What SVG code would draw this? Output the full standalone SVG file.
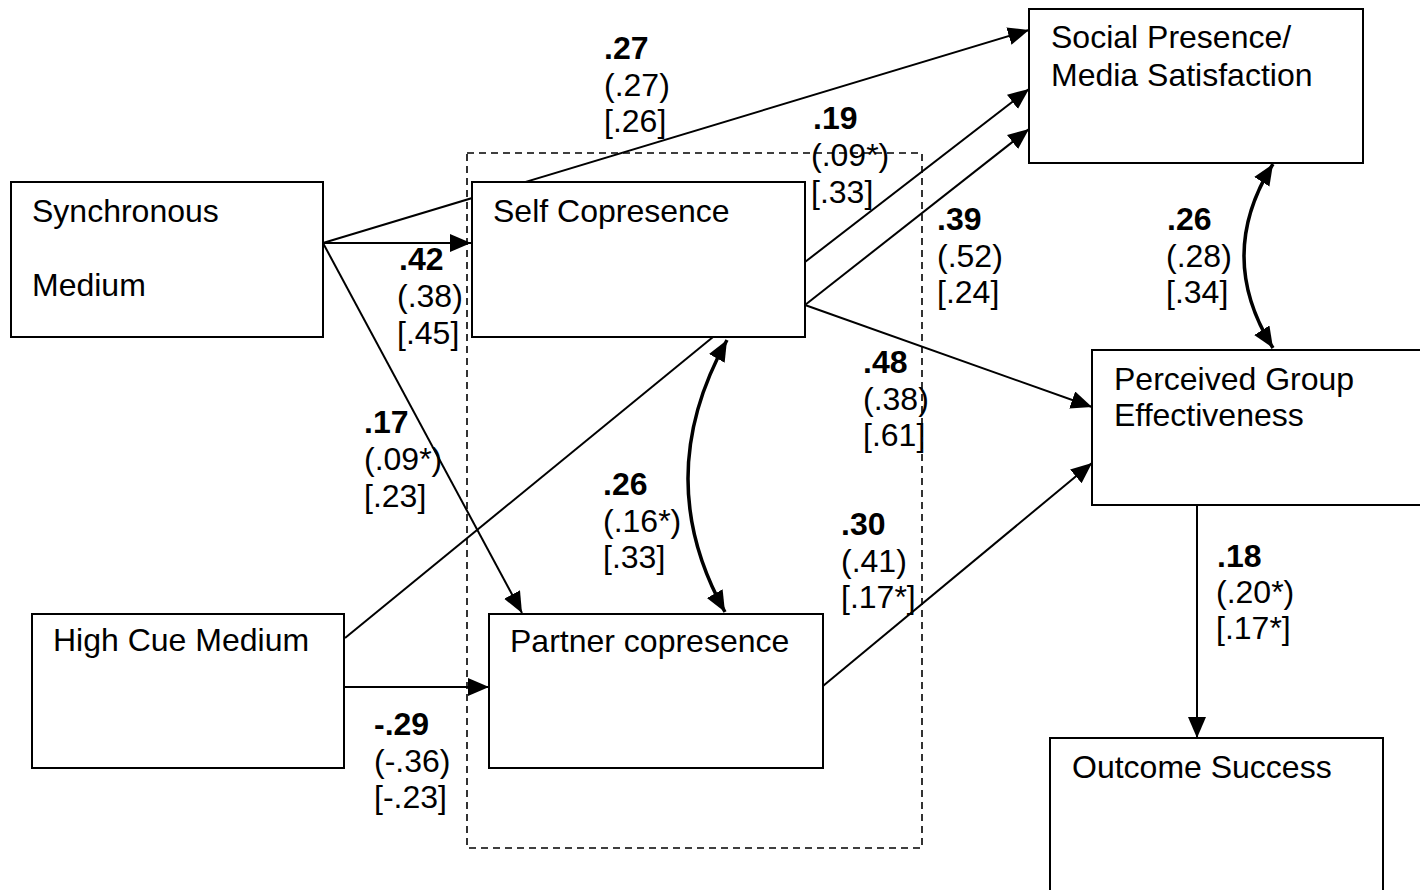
<svg xmlns="http://www.w3.org/2000/svg" width="1420" height="890" viewBox="0 0 1420 890">
<style>
text{font-family:"Liberation Sans",Arial,sans-serif;font-size:32px;fill:#000}
.b{font-weight:bold}
.box{fill:#fff;stroke:#000;stroke-width:2}
.c{fill:none;stroke:#000;stroke-width:2}
.t{fill:none;stroke:#000;stroke-width:3.5}
.dash{fill:none;stroke:#000;stroke-width:1.6;stroke-dasharray:7,5}
</style>
<defs>
<marker id="ah" markerUnits="userSpaceOnUse" markerWidth="24" markerHeight="20" refX="21" refY="9" orient="auto-start-reverse">
<path d="M0,0 L21,9 L0,18 z" fill="#000"/>
</marker>
</defs>
<rect class="dash" x="467" y="153" width="455" height="695"/>
<g id="connectors">
<line class="c" x1="323" y1="243" x2="1029" y2="30" marker-end="url(#ah)"/>
<line class="c" x1="323" y1="243" x2="471" y2="243" marker-end="url(#ah)"/>
<line class="c" x1="323" y1="243" x2="522" y2="613" marker-end="url(#ah)"/>
<line class="c" x1="345" y1="638" x2="713" y2="337"/>
<line class="c" x1="344" y1="687" x2="489" y2="687" marker-end="url(#ah)"/>
<line class="c" x1="805" y1="262" x2="1029" y2="89" marker-end="url(#ah)"/>
<line class="c" x1="805" y1="305" x2="1029" y2="129" marker-end="url(#ah)"/>
<line class="c" x1="805" y1="305" x2="1092" y2="407" marker-end="url(#ah)"/>
<line class="c" x1="823" y1="686" x2="1092" y2="463" marker-end="url(#ah)"/>
<line class="c" x1="1197" y1="505" x2="1197" y2="738" marker-end="url(#ah)"/>
<path class="t" d="M727,340 Q650,478 725,612" marker-start="url(#ah)" marker-end="url(#ah)"/>
<path class="t" d="M1273,164 Q1215,256 1273,348" marker-start="url(#ah)" marker-end="url(#ah)"/>
</g>
<g id="synchronous">
<rect class="box" x="11" y="182" width="312" height="155"/>
<text x="32" y="222">Synchronous</text>
<text x="32" y="296">Medium</text>
</g>
<g id="self">
<rect class="box" x="472" y="182" width="333" height="155"/>
<text x="493" y="222">Self Copresence</text>
</g>
<g id="social">
<rect class="box" x="1029" y="9" width="334" height="154"/>
<text x="1051" y="48">Social Presence/</text>
<text x="1051" y="86">Media Satisfaction</text>
</g>
<g id="perceived">
<rect class="box" x="1092" y="350" width="340" height="155"/>
<text x="1114" y="390">Perceived Group</text>
<text x="1114" y="426">Effectiveness</text>
</g>
<g id="outcome">
<rect class="box" x="1050" y="738" width="333" height="170"/>
<text x="1072" y="778">Outcome Success</text>
</g>
<g id="highcue">
<rect class="box" x="32" y="614" width="312" height="154"/>
<text x="53" y="651">High Cue Medium</text>
</g>
<g id="partner">
<rect class="box" x="489" y="614" width="334" height="154"/>
<text x="510" y="652">Partner copresence</text>
</g>
<g id="labels">
<text class="b" x="604" y="59">.27</text><text x="604" y="96">(.27)</text><text x="604" y="132">[.26]</text>
<text class="b" x="399" y="270">.42</text><text x="397" y="307">(.38)</text><text x="397" y="344">[.45]</text>
<text class="b" x="813" y="129">.19</text><text x="811" y="166">(.09*)</text><text x="811" y="203">[.33]</text>
<text class="b" x="937" y="230">.39</text><text x="937" y="267">(.52)</text><text x="937" y="303">[.24]</text>
<text class="b" x="863" y="373">.48</text><text x="863" y="410">(.38)</text><text x="863" y="446">[.61]</text>
<text class="b" x="364" y="433">.17</text><text x="364" y="470">(.09*)</text><text x="364" y="507">[.23]</text>
<text class="b" x="603" y="495">.26</text><text x="603" y="532">(.16*)</text><text x="603" y="568">[.33]</text>
<text class="b" x="841" y="535">.30</text><text x="841" y="572">(.41)</text><text x="841" y="608">[.17*]</text>
<text class="b" x="374" y="735">-.29</text><text x="374" y="772">(-.36)</text><text x="374" y="808">[-.23]</text>
<text class="b" x="1167" y="230">.26</text><text x="1166" y="267">(.28)</text><text x="1166" y="303">[.34]</text>
<text class="b" x="1217" y="567">.18</text><text x="1216" y="603">(.20*)</text><text x="1216" y="639">[.17*]</text>
</g>
</svg>
